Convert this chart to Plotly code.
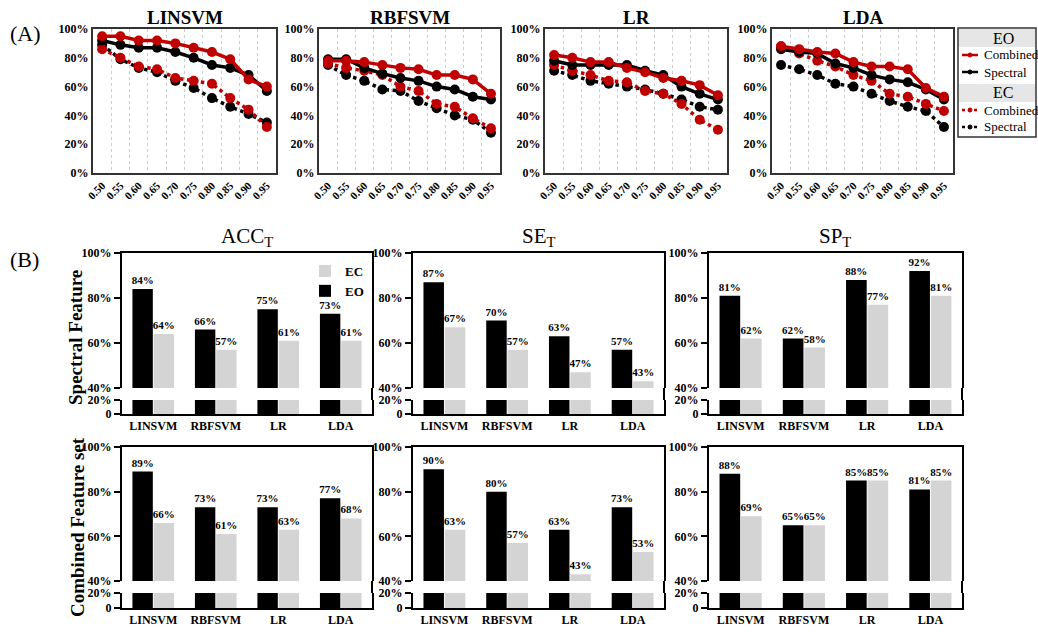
import plotly.graph_objects as go

W, H = 1038, 635

# ---------------- data ----------------
thresholds = ["0.50", "0.55", "0.60", "0.65", "0.70", "0.75", "0.80", "0.85", "0.90", "0.95"]
line_panels = ["LINSVM", "RBFSVM", "LR", "LDA"]
y_ticks = [0, 20, 40, 60, 80, 100]

linsvm_eo_combined = [95, 95, 92, 92, 90, 87, 84, 79, 65, 60]
linsvm_eo_spectral = [92, 89, 87, 87, 84, 80, 75, 73, 68, 57]
linsvm_ec_combined = [86, 80, 74, 72, 66, 64, 62, 52, 44, 32]
linsvm_ec_spectral = [89, 79, 73, 70, 64, 59, 52, 46, 41, 35]

rbfsvm_eo_combined = [78, 78, 77, 75, 73, 72, 68, 68, 65, 55]
rbfsvm_eo_spectral = [79, 79, 73, 69, 66, 64, 60, 58, 53, 51]
rbfsvm_ec_combined = [76, 73, 71, 68, 60, 57, 48, 46, 38, 31]
rbfsvm_ec_spectral = [75, 68, 64, 58, 57, 50, 45, 40, 37, 28]

lr_eo_combined = [82, 80, 77, 77, 73, 70, 66, 64, 61, 54]
lr_eo_spectral = [78, 75, 75, 75, 75, 71, 68, 60, 55, 51]
lr_ec_combined = [75, 71, 68, 64, 63, 57, 55, 48, 37, 30]
lr_ec_spectral = [71, 68, 64, 62, 60, 58, 55, 51, 46, 44]

lda_eo_combined = [88, 86, 84, 83, 77, 74, 74, 72, 59, 53]
lda_eo_spectral = [86, 84, 83, 76, 73, 68, 65, 63, 58, 51]
lda_ec_combined = [88, 83, 78, 74, 68, 64, 55, 53, 48, 43]
lda_ec_spectral = [75, 72, 68, 62, 60, 55, 50, 46, 43, 32]

classifiers = ["LINSVM", "RBFSVM", "LR", "LDA"]
metrics = ["ACC<sub>T</sub>", "SE<sub>T</sub>", "SP<sub>T</sub>"]
row_labels = ["Spectral Feature", "Combined Feature set"]

acc_spectral_eo = [84, 66, 75, 73]
acc_spectral_ec = [64, 57, 61, 61]
se_spectral_eo = [87, 70, 63, 57]
se_spectral_ec = [67, 57, 47, 43]
sp_spectral_eo = [81, 62, 88, 92]
sp_spectral_ec = [62, 58, 77, 81]

acc_combined_eo = [89, 73, 73, 77]
acc_combined_ec = [66, 61, 63, 68]
se_combined_eo = [90, 80, 63, 73]
se_combined_ec = [63, 57, 43, 53]
sp_combined_eo = [88, 65, 85, 81]
sp_combined_ec = [69, 65, 85, 85]

# ---------------- styling helpers ----------------
SERIF = "Liberation Serif"
RED = "#c00000"
GRAY = "#d4d4d4"


def px_x(p):
    return p / W


def px_y(p):
    return 1 - p / H


line_data = {
    "LINSVM": [linsvm_eo_combined, linsvm_eo_spectral, linsvm_ec_combined, linsvm_ec_spectral],
    "RBFSVM": [rbfsvm_eo_combined, rbfsvm_eo_spectral, rbfsvm_ec_combined, rbfsvm_ec_spectral],
    "LR": [lr_eo_combined, lr_eo_spectral, lr_ec_combined, lr_ec_spectral],
    "LDA": [lda_eo_combined, lda_eo_spectral, lda_ec_combined, lda_ec_spectral],
}
series_style = [
    ("EO", "Combined", RED, "solid"),
    ("EO", "Spectral", "black", "solid"),
    ("EC", "Combined", RED, "dot"),
    ("EC", "Spectral", "black", "dot"),
]

fig = go.Figure()
layout = {}
annotations = []
shapes = []

line_x_px = [(93, 276), (319, 500), (545, 727), (772, 953)]
line_y_px = (29, 173)

draw_order = [3, 2, 1, 0]
for i, name in enumerate(line_panels):
    n = i + 1
    xa = "x" if n == 1 else f"x{n}"
    ya = "y" if n == 1 else f"y{n}"
    for k in draw_order:
        grp, lab, col, dash = series_style[k]
        fig.add_trace(go.Scatter(
            x=thresholds, y=line_data[name][k], xaxis=xa, yaxis=ya,
            mode="lines+markers",
            line=dict(color=col, width=3.5 if dash == "solid" else 3.5, dash=dash),
            marker=dict(color=col, size=10),
            name=f"{grp} {lab}", showlegend=False,
        ))
    x0, x1 = line_x_px[i]
    layout[f"xaxis{n}"] = dict(
        domain=[px_x(x0), px_x(x1)], anchor=ya, type="category",
        range=[-0.5, 9.5], tickson="boundaries", ticks="",
        showgrid=True, gridcolor="#cccccc", griddash="dot", gridwidth=1,
        showline=True, mirror=True, linecolor="#333333", linewidth=2,
        tickangle=-45, tickfont=dict(family=SERIF, size=11, weight="bold", color="black"),
    )
    layout[f"yaxis{n}"] = dict(
        domain=[px_y(line_y_px[1]), px_y(line_y_px[0])], anchor=xa,
        range=[0, 100], tickvals=y_ticks, ticktext=[f"{v}%" for v in y_ticks],
        showgrid=False, zeroline=False, ticks="",
        showline=True, mirror=True, linecolor="#333333", linewidth=2,
        tickfont=dict(family=SERIF, size=12, weight="bold", color="black"),
    )
    annotations.append(dict(
        text=f"<b>{name}</b>", x=px_x((x0 + x1) / 2), y=px_y(18), xref="paper", yref="paper",
        showarrow=False, xanchor="center", yanchor="middle",
        font=dict(family=SERIF, size=19, color="black"),
    ))

# ---------------- custom line legend (box with group headers) ----------------
lg_x0, lg_x1, lg_y0, lg_y1 = 958, 1036, 28, 137
shapes.append(dict(type="rect", xref="paper", yref="paper",
                   x0=px_x(lg_x0), x1=px_x(lg_x1), y0=px_y(lg_y1), y1=px_y(lg_y0),
                   line=dict(color="#333333", width=1.5), fillcolor="white", layer="below"))
legend_rows = [  # (header_center_y, [(label_y, style index), ...])
    (38, [(55, 0), (72, 1)]),
    (93, [(110, 2), (127, 3)]),
]
for hy, items in legend_rows:
    grp = series_style[items[0][1]][0]
    shapes.append(dict(type="rect", xref="paper", yref="paper",
                       x0=px_x(lg_x0 + 1), x1=px_x(lg_x1 - 1), y0=px_y(hy + 9), y1=px_y(hy - 9),
                       line=dict(width=0), fillcolor="#e6e6e6", layer="below"))
    annotations.append(dict(text=grp, x=px_x(1003), y=px_y(hy), xref="paper", yref="paper",
                            showarrow=False, xanchor="center", yanchor="middle",
                            font=dict(family=SERIF, size=16, color="black")))
    for ly, k in items:
        _, lab, col, dash = series_style[k]
        shapes.append(dict(type="line", xref="paper", yref="paper",
                           x0=px_x(962), x1=px_x(978), y0=px_y(ly), y1=px_y(ly),
                           line=dict(color=col, width=2.5, dash=dash)))
        shapes.append(dict(type="circle", xref="paper", yref="paper",
                           x0=px_x(968), x1=px_x(972), y0=px_y(ly + 2), y1=px_y(ly - 2),
                           line=dict(color=col, width=1), fillcolor=col))
        annotations.append(dict(text=lab, x=px_x(982), y=px_y(ly), xref="paper", yref="paper",
                                showarrow=False, xanchor="left", yanchor="middle",
                                font=dict(family=SERIF, size=13, color="black")))

# ---------------- bar panels ----------------
bar_data = [
    [(acc_spectral_eo, acc_spectral_ec), (se_spectral_eo, se_spectral_ec), (sp_spectral_eo, sp_spectral_ec)],
    [(acc_combined_eo, acc_combined_ec), (se_combined_eo, se_combined_ec), (sp_combined_eo, sp_combined_ec)],
]
bar_x_px = [(122, 372), (413, 664), (709, 962)]
bar_rows_px = [((253, 388), (400, 414)), ((447, 581), (593, 608))]

axis_n = 5
for r in range(2):
    (u0, u1), (l0, l1) = bar_rows_px[r]
    for c in range(3):
        eo, ec = bar_data[r][c]
        nu, nl = axis_n, axis_n + 1
        axis_n += 2
        x0, x1 = bar_x_px[c]
        xd = [px_x(x0), px_x(x1)]
        first = (r == 0 and c == 0)
        for seg, n in (("upper", nu), ("lower", nl)):
            for vals, col, nm in ((eo, "black", "EO"), (ec, GRAY, "EC")):
                kw = {}
                if seg == "upper":
                    kw = dict(text=[f"{v}%" for v in vals], textposition="outside",
                              textfont=dict(family=SERIF, size=11, weight="bold", color="black"),
                              cliponaxis=False, constraintext="none")
                fig.add_trace(go.Bar(
                    x=classifiers, y=vals, xaxis=f"x{n}", yaxis=f"y{n}",
                    marker=dict(color=col, line=dict(width=0)), name=nm,
                    legend="legend2", showlegend=(first and seg == "upper"), **kw,
                ))
        layout[f"xaxis{nu}"] = dict(
            domain=xd, anchor=f"y{nu}", matches=f"x{nl}", side="top",
            showticklabels=False, ticks="", showline=True, linecolor="black", linewidth=2,
            showgrid=False,
        )
        layout[f"yaxis{nu}"] = dict(
            domain=[px_y(u1), px_y(u0)], anchor=f"x{nu}", range=[40, 100],
            tickvals=[40, 60, 80, 100], ticktext=["40%", "60%", "80%", "100%"],
            showgrid=False, zeroline=False, ticks="outside", ticklen=6, tickwidth=2, tickcolor="black",
            showline=True, mirror=True, linecolor="black", linewidth=2,
            tickfont=dict(family=SERIF, size=12, weight="bold", color="black"),
        )
        layout[f"xaxis{nl}"] = dict(
            domain=xd, anchor=f"y{nl}", type="category",
            ticks="", showline=True, linecolor="black", linewidth=2, showgrid=False,
            tickfont=dict(family=SERIF, size=12, weight="bold", color="black"),
        )
        layout[f"yaxis{nl}"] = dict(
            domain=[px_y(l1), px_y(l0)], anchor=f"x{nl}", range=[0, 20],
            tickvals=[0, 20], ticktext=["0", "20%"],
            showgrid=False, zeroline=False, ticks="outside", ticklen=6, tickwidth=2, tickcolor="black",
            showline=True, mirror=True, linecolor="black", linewidth=2,
            tickfont=dict(family=SERIF, size=12, weight="bold", color="black"),
        )
        shapes.append(dict(type="line", xref="paper", yref="paper",
                           x0=px_x(x1), x1=px_x(x1), y0=px_y(l0), y1=px_y(u1),
                           line=dict(color="black", width=2)))
        if r == 0:
            annotations.append(dict(
                text=metrics[c], x=px_x((x0 + x1) / 2), y=px_y(237), xref="paper", yref="paper",
                showarrow=False, xanchor="center", yanchor="middle",
                font=dict(family=SERIF, size=21, color="black"),
            ))

annotations.append(dict(text=f"<b>{row_labels[0]}</b>", x=px_x(75), y=px_y(338), xref="paper", yref="paper",
                        showarrow=False, textangle=-90, xanchor="center", yanchor="middle",
                        font=dict(family=SERIF, size=19, color="black")))
annotations.append(dict(text=f"<b>{row_labels[1]}</b>", x=px_x(77), y=px_y(527), xref="paper", yref="paper",
                        showarrow=False, textangle=-90, xanchor="center", yanchor="middle",
                        font=dict(family=SERIF, size=19, color="black")))
annotations.append(dict(text="(A)", x=px_x(8), y=px_y(33), xref="paper", yref="paper",
                        showarrow=False, xanchor="left", yanchor="middle",
                        font=dict(family=SERIF, size=22, color="black")))
annotations.append(dict(text="(B)", x=px_x(8), y=px_y(260), xref="paper", yref="paper",
                        showarrow=False, xanchor="left", yanchor="middle",
                        font=dict(family=SERIF, size=22, color="black")))

fig.update_layout(
    **layout,
    width=W, height=H,
    margin=dict(l=0, r=0, t=0, b=0, autoexpand=False),
    paper_bgcolor="white", plot_bgcolor="white",
    barmode="group", bargap=0.32, bargroupgap=0.04,
    annotations=annotations, shapes=shapes,
    legend2=dict(x=px_x(305), y=px_y(256), xanchor="left", yanchor="top",
                 bgcolor="rgba(0,0,0,0)", borderwidth=0, traceorder="reversed",
                 font=dict(family=SERIF, size=13, weight="bold", color="black")),
    showlegend=True,
)

fig.write_html("out.html")
